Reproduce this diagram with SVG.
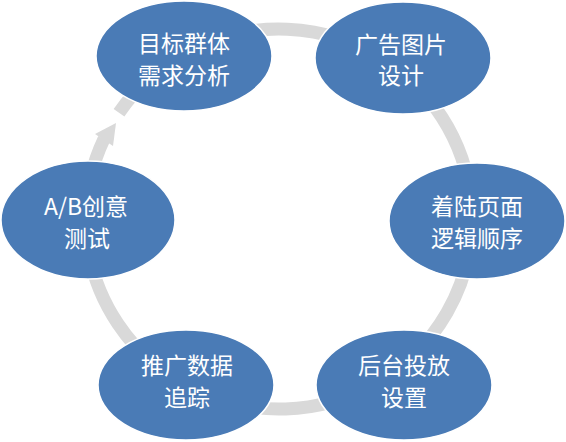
<svg xmlns="http://www.w3.org/2000/svg" width="566" height="442" viewBox="0 0 566 442">
<style>
.node { fill: #4a7bb6; stroke: #ffffff; stroke-width: 1.5; }
.lbl { font-family: "Noto Sans CJK SC", "Liberation Sans", sans-serif; font-size: 23px; fill: #ffffff; text-anchor: middle; }
.ring { fill: none; stroke: #d9d9d9; stroke-width: 13; }
</style>
<rect width="566" height="442" fill="#ffffff"/>
<g id="connectors">
<path class="ring" d="M119,112.8 A193,190 0 1 1 104.1,138.7"/>
<polygon points="95,134 116,123 113,146" fill="#d9d9d9"/>
</g>
<g id="n1">
<ellipse class="node" cx="184" cy="56" rx="88" ry="55"/>
<text class="lbl"><tspan x="184" y="52">目标群体</tspan><tspan x="184" y="84">需求分析</tspan></text>
</g>
<g id="n2">
<ellipse class="node" cx="403" cy="58" rx="88" ry="56"/>
<text class="lbl"><tspan x="401" y="53">广告图片</tspan><tspan x="401" y="84">设计</tspan></text>
</g>
<g id="n3">
<ellipse class="node" cx="477" cy="221" rx="88" ry="58"/>
<text class="lbl"><tspan x="477" y="215">着陆页面</tspan><tspan x="477" y="247">逻辑顺序</tspan></text>
</g>
<g id="n4">
<ellipse class="node" cx="404" cy="385" rx="88" ry="55"/>
<text class="lbl"><tspan x="404" y="374">后台投放</tspan><tspan x="404" y="406">设置</tspan></text>
</g>
<g id="n5">
<ellipse class="node" cx="186" cy="385" rx="88" ry="55"/>
<text class="lbl"><tspan x="187" y="374">推广数据</tspan><tspan x="187" y="406">追踪</tspan></text>
</g>
<g id="n6">
<ellipse class="node" cx="88" cy="220" rx="87" ry="59"/>
<text class="lbl"><tspan x="86" y="215">A/B创意</tspan><tspan x="87" y="247">测试</tspan></text>
</g>
</svg>
